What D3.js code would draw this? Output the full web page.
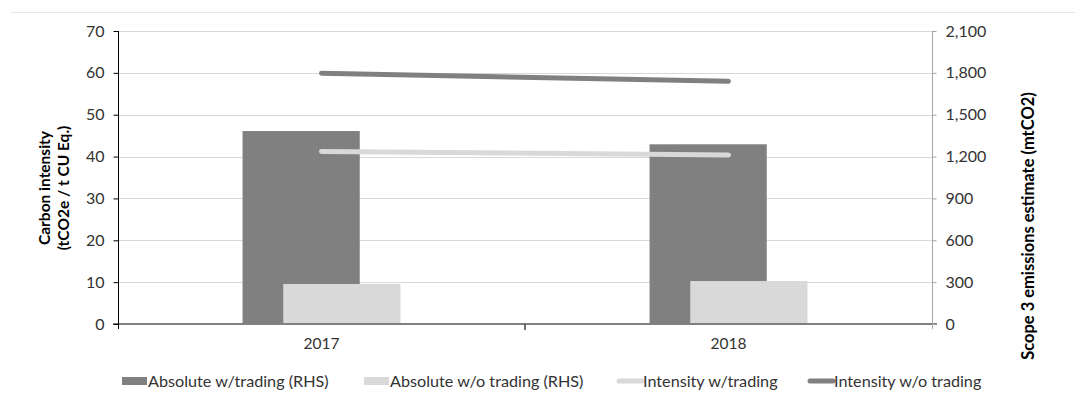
<!DOCTYPE html>
<html><head><meta charset="utf-8">
<script src="https://cdn.jsdelivr.net/npm/d3@7"></script>
<style>
body{margin:0;background:#fff;}
svg text{font-family:Lato, "Open Sans", sans-serif;}
</style></head>
<body><svg id="c" width="1085" height="414"></svg>
<script>
const categories = ["2017", "2018"];
const absWithTrading = [1383, 1288];
const absWithoutTrading = [287, 308];
const intensityWithTrading = [41.2, 40.4];
const intensityWithoutTrading = [59.9, 58.0];
const leftTicks = [0, 10, 20, 30, 40, 50, 60, 70];
const rightTicks = [0, 300, 600, 900, 1200, 1500, 1800, 2100];
const legendLabels = ["Absolute w/trading (RHS)", "Absolute w/o trading (RHS)", "Intensity w/trading", "Intensity w/o trading"];

const dark = "#808080", light = "#d9d9d9";
const svg = d3.select("#c");
const L = 118, R = 932, T = 31, B = 324;

svg.append("line").attr("x1", 11).attr("x2", 1075).attr("y1", 12.5).attr("y2", 12.5)
  .attr("stroke", "#e6e6e6").attr("stroke-width", 1);

const x = d3.scaleBand().domain(categories).range([L, R]).padding(0);
const yL = d3.scaleLinear().domain([0, 70]).range([B, T]);
const yR = d3.scaleLinear().domain([0, 2100]).range([B, T]);

// gridlines
svg.append("g").selectAll("line").data(leftTicks.filter(d => d > 0)).join("line")
  .attr("x1", L).attr("x2", R).attr("y1", d => Math.round(yL(d)) + 0.5).attr("y2", d => Math.round(yL(d)) + 0.5)
  .attr("stroke", light).attr("stroke-width", 1);

const bw = x.bandwidth() * 0.288;
const off = x.bandwidth() * 0.05;
// bars
svg.append("g").selectAll("rect").data(categories).join("rect")
  .attr("x", (d) => x(d) + x.bandwidth() / 2 - off - bw / 2)
  .attr("width", bw)
  .attr("y", (d, i) => yR(absWithTrading[i]))
  .attr("height", (d, i) => B - yR(absWithTrading[i]))
  .attr("fill", dark);
svg.append("g").selectAll("rect").data(categories).join("rect")
  .attr("x", (d) => x(d) + x.bandwidth() / 2 + off - bw / 2)
  .attr("width", bw)
  .attr("y", (d, i) => yR(absWithoutTrading[i]))
  .attr("height", (d, i) => B - yR(absWithoutTrading[i]))
  .attr("fill", light);

// lines
const line = d3.line().x((d, i) => x(categories[i]) + x.bandwidth() / 2).y(d => yL(d));
svg.append("path").datum(intensityWithTrading).attr("d", line).attr("fill", "none")
  .attr("stroke", light).attr("stroke-width", 5).attr("stroke-linecap", "round");
svg.append("path").datum(intensityWithoutTrading).attr("d", line).attr("fill", "none")
  .attr("stroke", dark).attr("stroke-width", 5).attr("stroke-linecap", "round");

// x axis
const xAxis = svg.append("g").attr("transform", `translate(0,${B})`)
  .call(d3.axisBottom(x).tickSize(0).tickPadding(14));
xAxis.select(".domain").attr("stroke", dark).attr("stroke-width", 2).attr("d", `M${L - 5},0H${R + 5}`);
xAxis.selectAll("text").attr("font-size", 15.5).attr("fill", "#333");
svg.append("line").attr("x1", (L + R) / 2).attr("x2", (L + R) / 2).attr("y1", B).attr("y2", B + 6)
  .attr("stroke", "#404040").attr("stroke-width", 1.5);

// left axis
const lAxis = svg.append("g").attr("transform", `translate(${L + 0.5},0)`)
  .call(d3.axisLeft(yL).tickValues(leftTicks).tickSize(5).tickPadding(9).tickSizeOuter(0));
lAxis.select(".domain").attr("stroke", "#000").attr("d", `M0,${T}V${B + 5}`);
lAxis.selectAll(".tick line").attr("stroke", "#000");
lAxis.selectAll("text").attr("font-size", 16).attr("fill", "#333");

// right axis
const rAxis = svg.append("g").attr("transform", `translate(${R + 0.5},0)`)
  .call(d3.axisRight(yR).tickValues(rightTicks).tickFormat(d3.format(",")).tickSize(4).tickPadding(9).tickSizeOuter(0));
rAxis.select(".domain").attr("stroke", "#a6a6a6").attr("d", `M0,${T}V${B + 5}`);
rAxis.selectAll(".tick line").attr("stroke", "#a6a6a6");
rAxis.selectAll("text").attr("font-size", 16).attr("fill", "#333");

// axis titles
const lt = svg.append("text").attr("transform", "translate(50,188) rotate(-90)")
  .attr("text-anchor", "middle").attr("font-size", 15.5).attr("font-weight", "bold").attr("fill", "#000");
lt.append("tspan").attr("x", 0).attr("dy", 0).text("Carbon intensity");
lt.append("tspan").attr("x", 0).attr("dy", 19).text("(tCO2e / t CU Eq.)");
svg.append("text").attr("transform", "translate(1034,226) rotate(-90)")
  .attr("text-anchor", "middle").attr("font-size", 16.5).attr("font-weight", "bold").attr("fill", "#000")
  .text("Scope 3 emissions estimate (mtCO2)");

// legend
const legX = [122, 364, 617, 808];
const lg = svg.append("g");
legendLabels.forEach((t, i) => {
  const g = lg.append("g").attr("transform", `translate(${legX[i]},381)`);
  if (i < 2) {
    g.append("rect").attr("x", 0).attr("y", -4).attr("width", 25).attr("height", 8).attr("fill", i === 0 ? dark : light);
  } else {
    g.append("line").attr("x1", 2).attr("x2", 25).attr("y1", 0).attr("y2", 0)
      .attr("stroke", i === 2 ? light : dark).attr("stroke-width", 5).attr("stroke-linecap", "round");
  }
  g.append("text").attr("x", 26).attr("y", 5.5).attr("font-size", 16.2).attr("fill", "#333").text(t);
});
</script></body></html>
